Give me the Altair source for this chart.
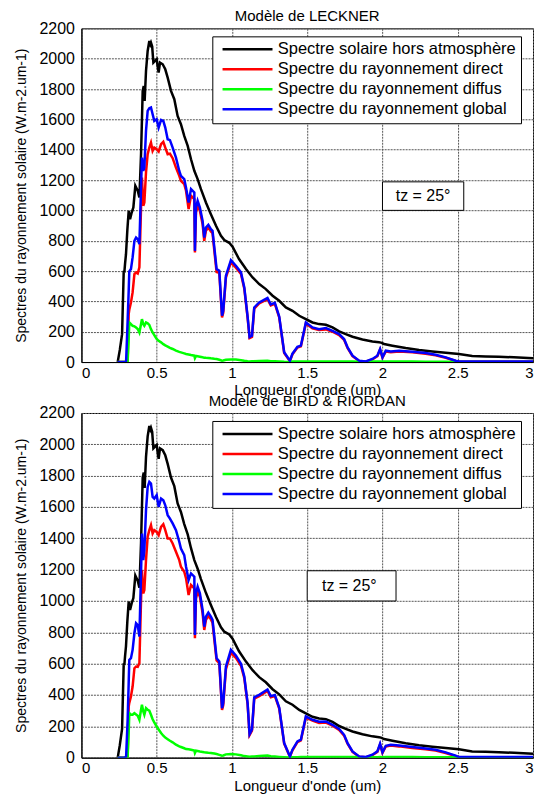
import altair as alt
import pandas as pd

# ---------------- data ----------------
names = ["Spectre solaire hors atmosphère", "Spectre du rayonnement direct",
         "Spectre du rayonnement diffus", "Spectre du rayonnement global"]
colors = ["#000000", "#ff0000", "#00ff00", "#0000ff"]
titles = ["Modèle de LECKNER", "Modèle de BIRD & RIORDAN"]
x_title = "Longueur d'onde (um)"
y_title = "Spectres du rayonnement solaire (W.m-2.um-1)"
x_ticks = [0, 0.5, 1, 1.5, 2, 2.5, 3]
y_ticks = [0, 200, 400, 600, 800, 1000, 1200, 1400, 1600, 1800, 2000, 2200]
tz_label = "tz = 25°"

# extraterrestrial spectrum (same in both panels)
wl_ext = [0.241, 0.255, 0.270, 0.281, 0.285, 0.290, 0.296, 0.305, 0.314, 0.323,
          0.334, 0.345, 0.358, 0.374, 0.385, 0.396, 0.407, 0.414, 0.420, 0.429,
          0.440, 0.451, 0.458, 0.462, 0.470, 0.478, 0.489, 0.500, 0.505, 0.513,
          0.522, 0.540, 0.557, 0.573, 0.595, 0.617, 0.639, 0.661, 0.683, 0.706,
          0.728, 0.750, 0.772, 0.794, 0.827, 0.860, 0.894, 0.927, 0.949, 0.982,
          1.004, 1.047, 1.093, 1.137, 1.181, 1.225, 1.270, 1.314, 1.358, 1.402,
          1.447, 1.491, 1.535, 1.579, 1.624, 1.668, 1.712, 1.756, 1.801, 1.867,
          1.933, 1.977, 1.990, 2.011, 2.066, 2.154, 2.243, 2.331, 2.420, 2.508,
          2.596, 2.685, 2.773, 2.873, 3.000]
ext = [0, 80, 184, 602, 590, 650, 711, 870, 997, 942,
       986, 1019, 1162, 1129, 1085, 1370, 1788, 1820, 1722, 1919,
       2051, 2117, 2095, 2106, 2080, 1974, 1985, 1996, 1960, 1908,
       1974, 1963, 1930, 1875, 1788, 1733, 1623, 1568, 1491, 1425,
       1337, 1261, 1206, 1140, 1052, 975, 898, 832, 804, 786,
       760, 679, 613, 558, 514, 481, 437, 404, 360, 338,
       305, 283, 261, 250, 246, 228, 202, 184, 167, 149,
       136, 130, 128, 119, 108, 92, 79, 70, 61, 53,
       40, 37, 35, 31, 25]

wl = [0.24, 0.29, 0.297, 0.307, 0.314, 0.318, 0.329, 0.340, 0.352, 0.363,
      0.374, 0.385, 0.396, 0.402, 0.411, 0.418, 0.429, 0.440, 0.451, 0.462,
      0.473, 0.484, 0.500, 0.513, 0.529, 0.544, 0.557, 0.573, 0.588, 0.606,
      0.628, 0.650, 0.661, 0.683, 0.695, 0.712, 0.728, 0.750, 0.754, 0.761,
      0.772, 0.787, 0.805, 0.816, 0.827, 0.843, 0.860, 0.871, 0.883, 0.898,
      0.916, 0.934, 0.942, 0.960, 0.993, 1.026, 1.060, 1.082, 1.104, 1.117,
      1.133, 1.148, 1.181, 1.236, 1.258, 1.285, 1.314, 1.347, 1.385, 1.402,
      1.435, 1.458, 1.491, 1.535, 1.579, 1.624, 1.668, 1.712, 1.745, 1.768,
      1.801, 1.845, 1.889, 1.933, 1.966, 1.984, 2.000, 2.022, 2.055, 2.110,
      2.198, 2.287, 2.353, 2.420, 2.486, 2.508, 2.600, 2.800, 3.000]

# LECKNER
direct_lk = [0, 0, 0, 5, 316, 345, 393, 459, 580, 591,
             584, 624, 1019, 1216, 1030, 1052, 1250, 1370, 1414, 1447,
             1392, 1414, 1403, 1388, 1436, 1452, 1414, 1370, 1374, 1344,
             1282, 1228, 1195, 1173, 1129, 1008, 1096, 1074, 722, 986,
             1030, 997, 909, 799, 865, 887, 861, 850, 733, 593,
             588, 294, 325, 558, 657, 622, 580, 484, 292, 158,
             166, 352, 386, 414, 373, 383, 294, 60, 6, 51,
             95, 103, 254, 222, 211, 215, 200, 178, 147, 93,
             39, 7, 2, 17, 38, 82, 28, 70, 65, 70,
             64, 55, 44, 28, 7, 2, 2, 2, 2]
diffuse_lk = [0, 0, 0, 5, 150, 261, 250, 239, 235, 228,
              218, 195, 250, 283, 250, 239, 261, 255, 245, 217,
              195, 178, 152, 140, 130, 118, 110, 102, 94, 86,
              75, 67, 64, 57, 53, 50, 46, 42, 26, 40,
              38, 35, 31, 29, 28, 27, 25, 24, 22, 20,
              15, 9, 10, 15, 17, 16, 12, 8, 5, 4,
              5, 6, 7, 9, 6, 5, 4, 2, 1, 3,
              3, 3, 3, 3, 3, 3, 3, 3, 3, 3,
              3, 2, 2, 3, 3, 3, 3, 3, 3, 3,
              3, 2, 2, 2, 1, 0, 0, 0, 0]
global_lk = [0, 0, 8, 272, 470, 597, 613, 690, 799, 821,
             810, 777, 1151, 1348, 1260, 1282, 1524, 1656, 1673, 1678,
             1634, 1590, 1601, 1546, 1596, 1590, 1546, 1469, 1463, 1414,
             1348, 1260, 1228, 1206, 1150, 1052, 1140, 1118, 733, 1019,
             1063, 1019, 931, 821, 887, 905, 876, 865, 755, 613,
             602, 305, 338, 569, 672, 635, 591, 492, 300, 165,
             173, 360, 393, 422, 380, 390, 300, 64, 9, 55,
             100, 108, 261, 228, 217, 224, 206, 184, 152, 97,
             42, 9, 4, 20, 42, 86, 31, 75, 70, 75,
             68, 59, 48, 31, 9, 4, 4, 4, 4]

# BIRD & RIORDAN
direct_br = [0, 0, 0, 8, 327, 350, 391, 454, 571, 582,
             580, 603, 1006, 1197, 1049, 1070, 1261, 1410, 1452, 1484,
             1431, 1452, 1441, 1420, 1473, 1490, 1452, 1399, 1399, 1367,
             1314, 1261, 1219, 1187, 1144, 1038, 1102, 1081, 762, 1017,
             1059, 1028, 921, 815, 879, 904, 883, 862, 752, 620,
             603, 305, 335, 565, 671, 637, 587, 508, 340, 144,
             173, 377, 393, 426, 386, 394, 314, 89, 6, 47,
             99, 110, 256, 236, 222, 224, 204, 177, 141, 89,
             37, 6, 2, 16, 36, 84, 30, 71, 77, 72,
             62, 54, 45, 30, 10, 2, 2, 2, 2]
diffuse_br = [0, 0, 0, 5, 160, 284, 274, 274, 284, 276,
              268, 242, 306, 338, 295, 274, 316, 306, 300, 274,
              245, 225, 199, 180, 157, 140, 128, 118, 108, 98,
              83, 72, 68, 60, 55, 53, 51, 46, 30, 44,
              42, 39, 36, 34, 33, 31, 30, 28, 26, 23,
              18, 13, 14, 21, 23, 21, 15, 10, 8, 6,
              7, 8, 10, 13, 9, 7, 5, 3, 1, 3,
              3, 4, 4, 4, 4, 4, 4, 4, 4, 4,
              4, 3, 3, 3, 3, 4, 3, 4, 4, 4,
              4, 3, 3, 3, 2, 1, 0, 0, 0]
global_br = [0, 0, 8, 242, 480, 624, 635, 688, 794, 858,
             847, 773, 1176, 1431, 1261, 1325, 1580, 1728, 1760, 1749,
             1664, 1654, 1675, 1601, 1654, 1643, 1611, 1548, 1526, 1495,
             1452, 1378, 1335, 1293, 1219, 1134, 1176, 1155, 783, 1049,
             1091, 1049, 943, 836, 900, 926, 900, 879, 773, 635,
             614, 316, 348, 582, 688, 652, 599, 518, 348, 150,
             180, 385, 401, 435, 393, 400, 320, 93, 8, 51,
             104, 115, 263, 242, 229, 231, 210, 183, 146, 93,
             40, 8, 4, 19, 40, 89, 34, 76, 83, 78,
             68, 59, 51, 34, 13, 4, 4, 4, 4]

# "tz = 25°" annotation boxes (data coordinates: x0, x1, y0, y1, text x, text y)
box_lk = [2.0, 2.54, 1000, 1188, 2.27, 1094]
box_br = [1.5, 2.09, 1000, 1193, 1.78, 1096]

FONT = "Liberation Sans"


def panel(title, direct, diffuse, glob, box, height):
    frames = [
        pd.DataFrame({"wl": wl_ext, "val": ext, "serie": names[0]}),
        pd.DataFrame({"wl": wl, "val": direct, "serie": names[1]}),
        pd.DataFrame({"wl": wl, "val": diffuse, "serie": names[2]}),
        pd.DataFrame({"wl": wl, "val": glob, "serie": names[3]}),
    ]
    xs = alt.Scale(domain=[0, 3], nice=False, zero=False)
    ys = alt.Scale(domain=[0, 2200], nice=False)
    xa = alt.Axis(values=x_ticks, format="~g", title=x_title)
    ya = alt.Axis(values=y_ticks, format="d", title=y_title)
    x = alt.X("wl:Q", scale=xs, axis=xa)
    y = alt.Y("val:Q", scale=ys, axis=ya)
    color = alt.Color(
        "serie:N",
        scale=alt.Scale(domain=names, range=colors),
        legend=alt.Legend(
            title=None, orient="none", legendX=131, legendY=8,
            direction="vertical", symbolType="M-5,0H5", symbolSize=100,
            symbolStrokeWidth=2.5, symbolOffset=22, labelOffset=22,
            labelFont=FONT, labelFontSize=16.5, labelColor="black",
            strokeColor="black", fillColor="white", padding=5,
            rowPadding=3, clipHeight=16, labelLimit=400,
        ),
    )
    lines = [alt.Chart(f).mark_line(strokeWidth=2.5, clip=True).encode(x=x, y=y, color=color)
             for f in frames]
    bdf = pd.DataFrame({"wl": [box[0]], "wl2": [box[1]], "val": [box[2]],
                        "val2": [box[3]], "tx": [box[4]], "ty": [box[5]],
                        "label": [tz_label]})
    rect = alt.Chart(bdf).mark_rect(fill="white", stroke="black", strokeWidth=1).encode(
        x=x, x2="wl2", y=y, y2="val2")
    txt = alt.Chart(bdf).mark_text(font=FONT, fontSize=16, color="black").encode(
        x=alt.X("tx:Q", scale=xs, axis=xa),
        y=alt.Y("ty:Q", scale=ys, axis=ya),
        text="label:N")
    return alt.layer(*lines, rect, txt).properties(
        width=452, height=height,
        title=alt.TitleParams(title, offset=-4, fontSize=15, font=FONT,
                              fontWeight="normal", color="black"))


top = panel(titles[0], direct_lk, diffuse_lk, global_lk, box_lk, 334)
bottom = panel(titles[1], direct_br, diffuse_br, global_br, box_br, 345)

chart = (
    alt.vconcat(top, bottom, spacing=51, bounds="flush")
    .resolve_scale(color="independent")
    .resolve_legend(color="independent")
    .properties(padding={"left": 5.5, "top": 0, "right": 2, "bottom": 0},
                background="white")
    .configure_view(stroke="black", strokeWidth=1)
    .configure_axis(
        grid=True, gridColor="#555555", gridDash=[2, 1], gridWidth=1,
        domainColor="black", ticks=False, tickSize=0,
        labelFont=FONT, labelColor="black",
        titleFont=FONT, titleFontWeight="normal", titleColor="black",
    )
    .configure_axisX(labelPadding=3, titlePadding=2.5, labelFontSize=15,
                     titleFontSize=15)
    .configure_axisY(labelPadding=7, titlePadding=10, labelFontSize=16,
                     titleFontSize=14)
)

chart.save("out.html", embed_options={"renderer": "svg", "actions": False})
